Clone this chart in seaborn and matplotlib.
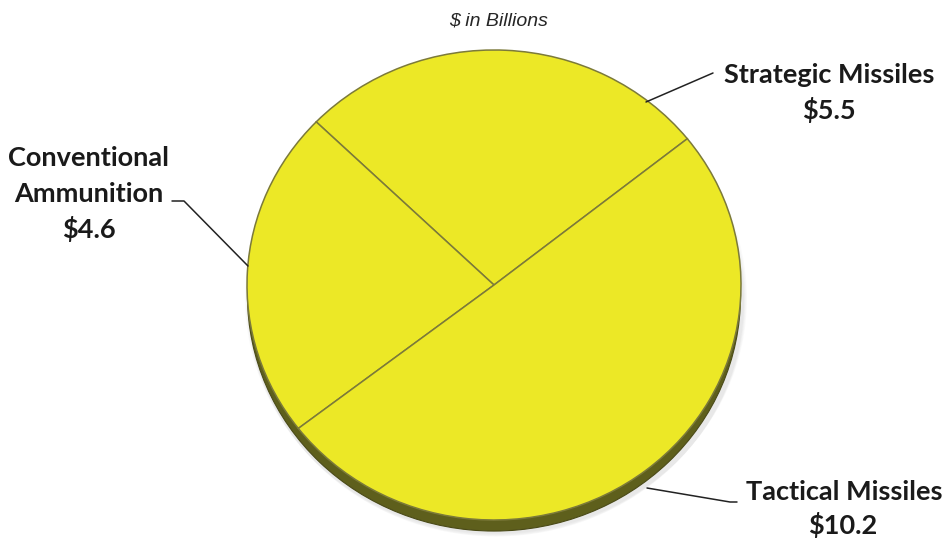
import matplotlib
matplotlib.use("Agg")
import matplotlib.pyplot as plt
from matplotlib.patches import Ellipse
import seaborn as sns

# Procurement funding by category ($ in billions)
categories = ["Strategic Missiles", "Conventional\nAmmunition", "Tactical Missiles"]
values = [5.5, 4.6, 10.2]
value_labels = ["$5.5", "$4.6", "$10.2"]

sns.set_theme(style="white")
plt.rcParams["font.family"] = ["Open Sans", "DejaVu Sans"]

W, H = 949, 539
fig = plt.figure(figsize=(W / 100, H / 100), dpi=100)
fig.patch.set_facecolor("white")

# overlay axes in pixel coordinates for labels and leader lines
ax = fig.add_axes([0, 0, 1, 1])
ax.set_xlim(0, W)
ax.set_ylim(H, 0)
ax.axis("off")

# pie axes: slightly flattened disc
cx, cy, rx, ry = 494, 285, 247, 235
pax = fig.add_axes([(cx - rx) / W, 1 - (cy + ry) / H, 2 * rx / W, 2 * ry / H])
pax.set_zorder(1)
ax.set_zorder(2)
ax.patch.set_alpha(0)

face = "#ECE826"
palette = sns.color_palette([face] * len(values))

# soft drop shadow and the dark rim under the top face
for i, a in enumerate([0.04, 0.04, 0.05, 0.06]):
    pax.add_patch(Ellipse((0.008, -0.058 - 0.004 * i), 2.0 + 0.008 * (4 - i), 2.0,
                          facecolor="#808080", alpha=a, edgecolor="none",
                          clip_on=False, zorder=0))
pax.add_patch(Ellipse((0.0, -0.047), 1.996, 2.0, facecolor="#5E5F1C",
                      edgecolor="#4A4A18", linewidth=0.8, clip_on=False, zorder=1))

wedges, _ = pax.pie(values, colors=palette, startangle=38.5, counterclock=True,
                    radius=1.0, center=(0, 0),
                    wedgeprops=dict(edgecolor="#7C7A3A", linewidth=1.1))
for w in wedges:
    w.set_zorder(2)
pax.set_aspect("auto")
pax.set_xlim(-1, 1)
pax.set_ylim(-1, 1)
pax.axis("off")

# subtitle
ax.text(499, 21, "$ in Billions", ha="center", va="center", fontsize=14,
        style="italic", color="#262626", family=["Liberation Sans", "DejaVu Sans"])

lab_kw = dict(ha="center", va="center", fontsize=19.5, fontweight="bold",
              color="#1A1A1A", family=["Lato", "DejaVu Sans"])

# Strategic Missiles
ax.text(829, 75, categories[0], **lab_kw)
ax.text(829, 110, value_labels[0], **lab_kw)
ax.plot([713, 646], [73, 102], color="#222222", lw=1.1)

# Conventional Ammunition
ax.text(89, 158, "Conventional", **lab_kw)
ax.text(89, 194, "Ammunition", **lab_kw)
ax.text(89, 229, value_labels[1], **lab_kw)
ax.plot([172, 184, 248], [201, 201, 266], color="#222222", lw=1.1)

# Tactical Missiles
ax.text(844, 492, categories[2], **lab_kw)
ax.text(843, 525, value_labels[2], **lab_kw)
ax.plot([647, 730, 737], [488, 502, 502], color="#222222", lw=1.1)

fig.savefig("out.png", dpi=100, facecolor="white")
